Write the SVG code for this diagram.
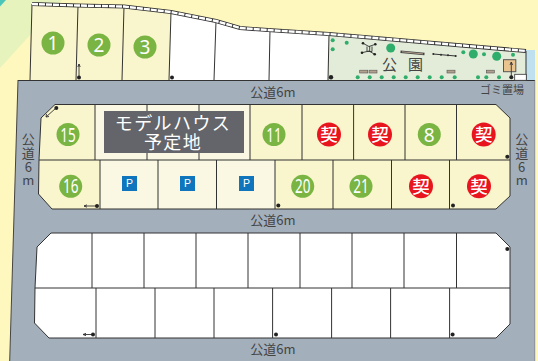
<svg xmlns="http://www.w3.org/2000/svg" width="538" height="361" viewBox="0 0 538 361">
<style>
text{font-family:"Noto Sans CJK JP","Liberation Sans",sans-serif}
.l{stroke:#333;stroke-width:1}
.y{fill:#F9F5CC}.p{fill:#FAF8E2}.w{fill:#fff}
.rd{fill:#444;font-size:13px;text-anchor:middle}
.g{fill:#7AB442}.r{fill:#E8141E}
.n{fill:#fff;font-family:"Noto Sans",sans-serif;font-size:19px;text-anchor:middle}
.k{fill:#fff;font-size:17.5px;font-weight:500;text-anchor:middle}
.b{fill:#0F75BC}.pt{fill:#fff;font-family:"Liberation Sans",sans-serif;font-size:10.5px;text-anchor:middle}
.d{fill:#222}.a{stroke:#333;stroke-width:.9;fill:none}
.t{fill:#2FAE6B}.bn{fill:#B3A08C;stroke:#555;stroke-width:.6}
</style>
<rect width="538" height="361" fill="#FFF8BE"/>
<polygon points="0,0 62,0 0,68" fill="#E6F3BC"/>
<polygon points="0,0 6,0 0,6.6" fill="#4CC6B8"/>
<rect x="526" y="50" width="9" height="31" fill="#BFE0EF"/>
<polygon points="18,80 535,80 535,361 9.7,361" fill="#A3AFBB"/>
<path d="M18,80L9.7,361" stroke="#444" stroke-width="1" fill="none"/>
<path d="M18,80.5H535" stroke="#333" stroke-width="1" fill="none"/>
<path d="M534.8,80V361" stroke="#777" stroke-width=".6" fill="none"/>

<g id="top-lots">
<polygon class="y" points="32,4 78,5.5 124,6.5 171,12 169,80 30,80"/>
<polygon class="w" points="171,12 216,21 240,28 268,30 329,34 328,80 169,80"/>
<path class="l" fill="none" d="M32,4L30,80M78,5.5L76,80M124,6.5L122,80M171,12L169,80M216,21L214,80M270,30L269,80"/>
</g>
<g id="park">
<polygon fill="#E2ECD9" points="329,34 526,51 526,80 328,80"/>
<path class="l" fill="none" d="M329,34L328,80M526,51V80"/>
<rect x="514.7" y="74.3" width="11.6" height="6" fill="#fff" stroke="#333" stroke-width=".8"/>
<g class="t">
<circle cx="332.7" cy="40.3" r="2"/><circle cx="346.7" cy="42.7" r="2"/><circle cx="332.7" cy="49.3" r="2"/><circle cx="463.3" cy="52.3" r="2"/><circle cx="484" cy="54.3" r="2"/><circle cx="513" cy="54.7" r="2"/>
<circle cx="357.7" cy="77.3" r="2"/><circle cx="369.7" cy="77.3" r="2"/><circle cx="381.7" cy="77.3" r="2"/><circle cx="393.7" cy="77.3" r="2"/><circle cx="405.7" cy="77.3" r="2"/><circle cx="417.7" cy="77.3" r="2"/><circle cx="429.7" cy="77.3" r="2"/><circle cx="441.7" cy="77.3" r="2"/><circle cx="454.7" cy="77.3" r="2"/><circle cx="478" cy="77.3" r="2"/><circle cx="486.3" cy="77.3" r="2"/><circle cx="499" cy="77.3" r="2"/>
<circle cx="390.7" cy="48" r="4.5"/><circle cx="473.3" cy="54" r="4.5"/><circle cx="496.7" cy="56.3" r="4.5"/>
</g>
<rect class="bn" x="359.7" y="70.2" width="8" height="2.8"/><rect class="bn" x="369" y="70.2" width="8" height="2.8"/><rect class="bn" x="447" y="70.2" width="8" height="2.8"/><rect class="bn" x="486.3" y="70.2" width="8" height="2.8"/>
<path d="M363,43.3L369,46.5L375.3,44.3M362,52.7L369,51L374.7,54.3M369.7,46V52M367,46.5V51.5H372V46.5" stroke="#333" stroke-width=".9" fill="none"/>
<g class="d"><circle cx="363" cy="43.3" r="1.3"/><circle cx="375.3" cy="44.3" r="1.3"/><circle cx="362" cy="52.7" r="1.3"/><circle cx="374.7" cy="54.3" r="1.3"/>
<circle cx="433.3" cy="54" r="1"/><circle cx="441" cy="54.7" r="1"/><circle cx="448" cy="55.3" r="1"/><circle cx="455.7" cy="56" r="1"/></g>
<path d="M400.5,51.7L424.5,54" stroke="#444" stroke-width="2.4"/><path d="M402,51.8L423,53.9" stroke="#B3A08C" stroke-width="1"/>
<path d="M433.3,54L455.7,56" stroke="#333"/>
<rect x="503.5" y="59.7" width="12.3" height="12" fill="#E9C48F" stroke="#555"/>
<text x="389.5" y="70" font-size="15" fill="#444" text-anchor="middle">公</text>
<text x="415.5" y="70" font-size="15" fill="#444" text-anchor="middle">園</text>
</g>
<g id="fence" fill="none">
<path d="M32,4L78,5.5L124,6.5L171,12L216,21L240,28L268,30L329,34L526,51" stroke="#333" stroke-width="4"/>
<path d="M32,4L78,5.5L124,6.5L171,12L216,21L240,28L268,30L329,34L526,51" stroke="#fff" stroke-width="2.4" stroke-dasharray="6 1"/>
</g>

<g id="block-middle">
<polygon class="y" points="55,104.5 496,104.5 510,118 510,196 496,209 52,209 38.5,194 39,160 41,118"/>
<rect class="p" x="95" y="105" width="155" height="55"/>
<rect class="p" x="100" y="160" width="175" height="49"/>
<path class="l" fill="none" stroke-width="1.2" d="M55,104.5H496L510,118V196L496,209H52L38.5,194L39,160L41,118ZM39,160H510"/>
<path class="l" fill="none" d="M95,105V160M147,105V160M199,105V160M250,105V160M302,105V160M353.6,105V160M405,105V160M456.5,105V160M100,160V209M158,160V209M216.5,160V209M275,160V209M333,160V209M391.5,160V209M449.5,160V209"/>
</g>
<g id="model-house">
<rect x="104" y="111" width="140" height="42" fill="#63656A"/>
<text fill="#fff" font-size="18" letter-spacing="1.4" text-anchor="middle"><tspan x="173" y="129.5">モデルハウス</tspan><tspan x="173" y="149">予定地</tspan></text>
</g>
<g id="block-bottom">
<polygon class="w" points="51,233 496,233 510,247 510,324 496,338 49,338 34.5,323 35,288 37,247"/>
<path class="l" fill="none" stroke-width="1.2" d="M51,233H496L510,247V324L496,338H49L34.5,323L35,288L37,247ZM35,288H510"/>
<path class="l" fill="none" d="M92,233V288M144,233V288M196,233V288M248,233V288M300,233V288M352,233V288M404,233V288M456.5,233V288M96,288V338M155,288V338M214,288V338M272.6,288V338M331.6,288V338M390.6,288V338M449.6,288V338"/>
</g>

<g id="lot-1"><circle class="g" cx="53" cy="43" r="11.5"/><text class="n" x="53" y="50">1</text></g>
<g id="lot-2"><circle class="g" cx="99" cy="45" r="11.5"/><text class="n" x="99" y="52">2</text></g>
<g id="lot-3"><circle class="g" cx="145" cy="47" r="11.5"/><text class="n" x="145" y="54">3</text></g>
<g id="lot-15"><circle class="g" cx="68" cy="134.5" r="11.5"/><text class="n" x="68" y="141.5" textLength="15.5" lengthAdjust="spacingAndGlyphs">15</text></g>
<g id="lot-11"><circle class="g" cx="274" cy="134.5" r="11.5"/><text class="n" x="274" y="141.5" textLength="15.5" lengthAdjust="spacingAndGlyphs">11</text></g>
<g id="lot-c1"><circle class="r" cx="329" cy="134.5" r="12"/><text class="k" x="329" y="141">契</text></g>
<g id="lot-c2"><circle class="r" cx="380" cy="134.5" r="12"/><text class="k" x="380" y="141">契</text></g>
<g id="lot-8"><circle class="g" cx="429.3" cy="134.5" r="11.5"/><text class="n" x="429.3" y="141.5">8</text></g>
<g id="lot-c3"><circle class="r" cx="483.7" cy="134.5" r="12"/><text class="k" x="483.7" y="141">契</text></g>
<g id="lot-16"><circle class="g" cx="70.7" cy="186.3" r="11.5"/><text class="n" x="70.7" y="193.3" textLength="15.5" lengthAdjust="spacingAndGlyphs">16</text></g>
<g id="parking-1"><rect class="b" x="122" y="176" width="15" height="15"/><text class="pt" x="129.5" y="187">P</text></g>
<g id="parking-2"><rect class="b" x="180" y="176" width="15" height="15"/><text class="pt" x="187.5" y="187">P</text></g>
<g id="parking-3"><rect class="b" x="239" y="176" width="15" height="15"/><text class="pt" x="246.5" y="187">P</text></g>
<g id="lot-20"><circle class="g" cx="302.7" cy="186.3" r="11.5"/><text class="n" x="302.7" y="193.3" textLength="15.5" lengthAdjust="spacingAndGlyphs">20</text></g>
<g id="lot-21"><circle class="g" cx="361" cy="186.3" r="11.5"/><text class="n" x="361" y="193.3" textLength="15.5" lengthAdjust="spacingAndGlyphs">21</text></g>
<g id="lot-c4"><circle class="r" cx="421" cy="186.3" r="12"/><text class="k" x="421" y="192.8">契</text></g>
<g id="lot-c5"><circle class="r" cx="479" cy="186.3" r="12"/><text class="k" x="479" y="192.8">契</text></g>

<g id="connectors">
<path class="a" d="M79,77V64M77.8,67L79,64L80.2,67"/>
<path class="a" d="M511.3,77V62M510,65L511.3,62L512.6,65"/>
<path class="a" d="M56,108L46,117M46.5,114L46,117L49,116.5"/>
<path class="a" d="M97,206H84M87,204.8L84,206L87,207.2"/>
<path class="a" d="M93,334.5H83M86,333.3L83,334.5L86,335.7"/>
<g class="d">
<circle cx="79" cy="77.5" r="2"/><circle cx="172" cy="77.5" r="2"/><circle cx="331" cy="77.3" r="2.2"/><circle cx="511.3" cy="77.3" r="2"/>
<circle cx="56.3" cy="108" r="2"/><circle cx="97" cy="206" r="2"/><circle cx="507.3" cy="156.7" r="2"/><circle cx="278.3" cy="205.5" r="2"/><circle cx="453" cy="205.5" r="2"/>
<circle cx="93" cy="334.5" r="2"/><circle cx="276" cy="334.5" r="2"/><circle cx="452.6" cy="334.5" r="2"/><circle cx="507.3" cy="249" r="2"/>
</g>
</g>

<g id="labels">
<text class="rd" x="273" y="97">公道6m</text>
<text class="rd" x="273" y="225">公道6m</text>
<text class="rd" x="273" y="354">公道6m</text>
<text class="rd" x="502" y="93.5" style="font-size:11px">ゴミ置場</text>
<text class="rd"><tspan x="28.3" y="143.5">公</tspan><tspan x="28.3" y="157.5">道</tspan><tspan x="28.3" y="172">6</tspan><tspan x="28.3" y="185">m</tspan></text>
<text class="rd"><tspan x="521.7" y="143.5">公</tspan><tspan x="521.7" y="157.5">道</tspan><tspan x="521.7" y="172">6</tspan><tspan x="521.7" y="185">m</tspan></text>
</g>
</svg>
